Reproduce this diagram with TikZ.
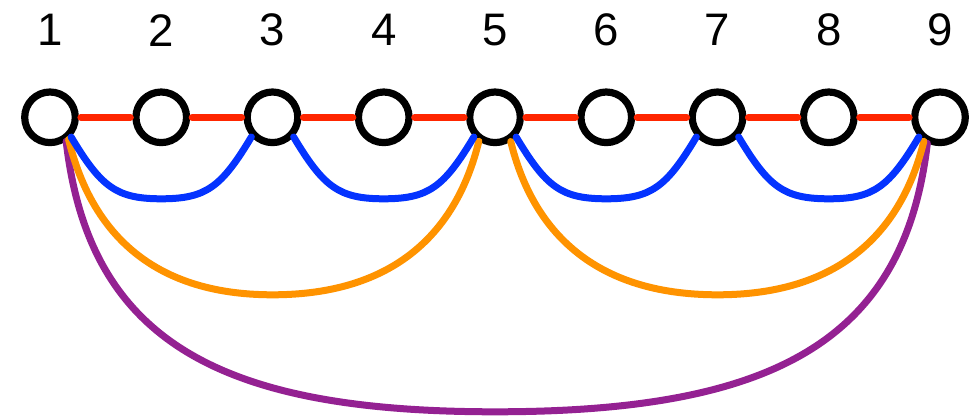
\documentclass[tikz,border=0pt]{standalone}
\usepackage{fontspec}
\setmainfont{Liberation Sans}
\usetikzlibrary{calc}
\definecolor{cred}{HTML}{FF2600}
\definecolor{cblue}{HTML}{0433FF}
\definecolor{corange}{HTML}{FF9300}
\definecolor{cpurple}{HTML}{942192}
\begin{document}
\begin{tikzpicture}[x=1pt,y=-1pt,
  vtx/.style={circle,draw=black,fill=white,line width=7.2pt,minimum size=50.6pt,inner sep=0pt},
  lbl/.style={inner sep=0pt,font=\fontsize{45.6}{50}\selectfont},
  edgeline/.style={line width=7pt,line cap=round},
  rededge/.style={edgeline,draw=cred,shorten <=2pt,shorten >=2pt},
  blueedge/.style={edgeline,draw=cblue},
  orangeedge/.style={edgeline,draw=corange},
  purpleedge/.style={edgeline,draw=cpurple}]
\useasboundingbox (0,0) rectangle (974,417);
\foreach \i in {1,...,9}{
  \node[vtx] (n\i) at ({50+111.25*(\i-1)},117.3) {};
  \node[lbl] (l\i) at ({50+111.25*(\i-1)},30.3) {\i};
}
% midpoints of the arcs
\coordinate (pm) at ($(n5)+(0,294.5)$);
\coordinate (om1) at ($(n3)+(0,177.5)$);
\coordinate (om2) at ($(n7)+(0,177.5)$);
\coordinate (bm1) at ($(n2)+(0,81.5)$);
\coordinate (bm2) at ($(n4)+(0,81.5)$);
\coordinate (bm3) at ($(n6)+(0,81.5)$);
\coordinate (bm4) at ($(n8)+(0,81.5)$);
% purple
\draw[purpleedge] (n1.-56) .. controls +(23,200) and +(-275,0) .. (pm)
  .. controls +(275,0) and +(-23,200) .. (n9.-116);
% orange
\draw[orangeedge] (n1.-50) .. controls +(22,90) and +(-123,0) .. (om1)
  .. controls +(123,0) and +(-22,90) .. (n5.-124);
\draw[orangeedge] (n5.-57) .. controls +(22,90) and +(-123,0) .. (om2)
  .. controls +(123,0) and +(-22,90) .. (n9.-124);
% blue
\draw[blueedge] (n1.-43) .. controls +(30,50) and +(-45,0) .. (bm1)
  .. controls +(45,0) and +(-30,50) .. (n3.-137);
\draw[blueedge] (n3.-43) .. controls +(30,50) and +(-45,0) .. (bm2)
  .. controls +(45,0) and +(-30,50) .. (n5.-137);
\draw[blueedge] (n5.-43) .. controls +(30,50) and +(-45,0) .. (bm3)
  .. controls +(45,0) and +(-30,50) .. (n7.-137);
\draw[blueedge] (n7.-43) .. controls +(30,50) and +(-45,0) .. (bm4)
  .. controls +(45,0) and +(-30,50) .. (n9.-137);
% red
\foreach \i/\j in {1/2,2/3,3/4,4/5,5/6,6/7,7/8,8/9}
  \draw[rededge] (n\i.east) -- (n\j.west);
\end{tikzpicture}
\end{document}
